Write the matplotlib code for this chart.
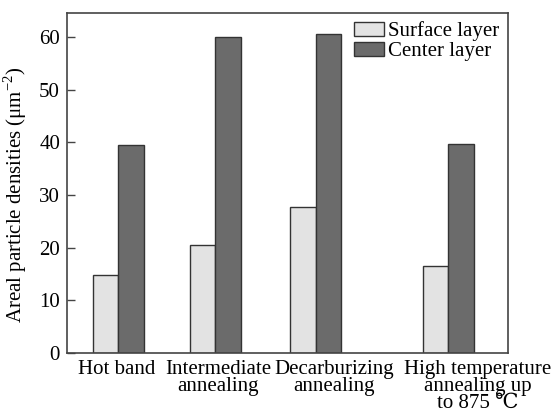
import matplotlib
matplotlib.use("Agg")
import matplotlib.pyplot as plt

# Daten
categories = ["Hot band", "Intermediate\nannealing", "Decarburizing\nannealing",
              "High temperature\nannealing up\nto 875 \u2103"]
surface_layer = [14.7, 20.4, 27.7, 16.4]
center_layer = [39.5, 60.1, 60.6, 39.6]
y_ticks = [0, 10, 20, 30, 40, 50, 60]

# Layout (Pixel in der Achse, unregelmaessig wie im Original)
group_pos = [51.3, 148.0, 248.7, 381.3]
label_pos = [49.5, 151.0, 267.0, 411.0]
bar_w = 25.5

plt.rcParams['font.family'] = ['Liberation Serif', 'DejaVu Serif', 'Noto Sans CJK SC']
plt.rcParams['mathtext.fontset'] = 'custom'
plt.rcParams['mathtext.rm'] = 'Liberation Serif'
plt.rcParams['font.size'] = 15

fig = plt.figure(figsize=(5.56, 4.12), dpi=100)
ax = fig.add_axes([0.1205, 0.1439, 0.7932, 0.8245])

edge = '#333333'
ax.bar([p - bar_w / 2 for p in group_pos], surface_layer, width=bar_w,
       color='#e3e3e3', edgecolor=edge, linewidth=1.0, label='Surface layer')
ax.bar([p + bar_w / 2 for p in group_pos], center_layer, width=bar_w,
       color='#6b6b6b', edgecolor=edge, linewidth=1.0, label='Center layer')

ax.set_xlim(0, 441)
ax.set_ylim(0, 64.6)
ax.set_yticks(y_ticks)
ax.set_xticks(label_pos)
ax.set_xticklabels(categories, linespacing=0.88)
ax.tick_params(axis='x', length=0, pad=5)
ax.tick_params(axis='y', direction='in', length=6, width=1, color='#444444', pad=5)
for s in ax.spines.values():
    s.set_color('#444444')
    s.set_linewidth(1.2)

ax.set_ylabel('Areal particle densities (\u03bcm$^{\\mathregular{-2}}$)')
ax.yaxis.set_label_coords(-0.086, 0.464)

ax.legend(loc='upper right', frameon=False, handlelength=1.45, handleheight=0.62,
          handletextpad=0.2, labelspacing=0.05, borderaxespad=0.2, borderpad=0.2)

plt.savefig('out.png', dpi=100)
